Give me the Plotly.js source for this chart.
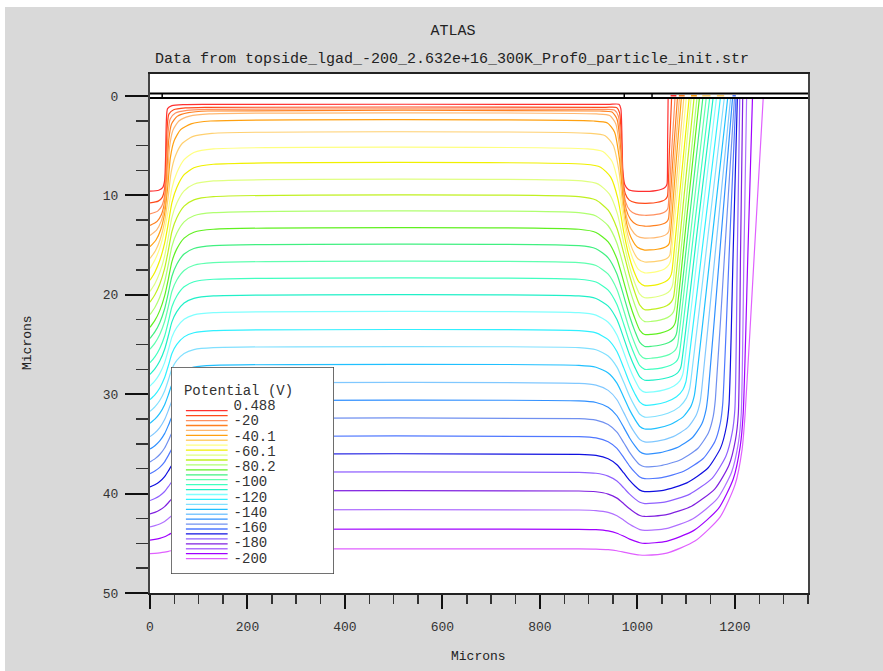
<!DOCTYPE html>
<html><head><meta charset="utf-8">
<script src="https://cdn.plot.ly/plotly-3.0.1.min.js"></script>
<style>html,body{margin:0;padding:0;background:#fff;width:883px;height:671px;overflow:hidden}
#chart{position:absolute;left:5px;top:7px;width:878px;height:664px}</style>
</head><body><div id="chart"></div><script>
// ---- data ----
const legendLabels = ['0.488','-20','-40.1','-60.1','-80.2','-100','-120','-140','-160','-180','-200'];
// depth (microns) where each potential contour meets the left edge x=0
const leftDepth = [9.57,10.76,11.87,13.02,14.04,15.16,16.34,17.35,18.54,19.66,20.74,21.99,23.27,24.39,25.47,26.83,28.01,29.19,30.55,31.73,32.92,34.27,35.52,36.81,37.99,39.34,40.70,42.05,43.34,44.69,46.04];
// depth of the flat part under the gain implant (x≈500)
const plateauDepth = [0.84,1.14,1.34,1.51,1.81,2.52,3.76,5.33,6.87,8.55,10.13,11.74,13.41,15.06,16.77,18.44,20.12,21.80,23.61,25.32,27.10,28.91,30.68,32.46,34.27,36.05,37.86,39.74,41.65,43.59,45.57];
// depth at the bottom of the gap dip (x≈1015)
const gapDepth = [9.6,10.8,12.0,13.1,14.3,15.5,16.7,17.8,19.1,20.3,21.5,22.7,24.0,25.2,26.4,27.5,28.6,29.8,31.1,32.3,33.5,34.8,36.0,37.3,38.5,39.8,41.0,42.3,43.7,45.0,46.2];
// bend point of the right-hand branch
const kneeX = [1061,1062,1063,1064,1065,1066,1067,1069,1071,1073,1075,1077,1079,1081,1083,1086,1090,1095,1102,1110,1120,1132,1145,1160,1175,1188,1200,1207,1213,1217,1221];
const kneeDepth = [8.8,10.0,11.2,12.3,13.5,14.7,15.9,16.3,17.6,18.8,20.0,21.2,22.5,23.7,24.9,26.0,27.1,27.5,28.0,28.5,29.0,29.5,30.0,30.5,31.0,31.0,31.5,32.0,32.0,32.0,32.0];
// x where each contour reaches the surface
const topX = [1063,1070,1077,1082,1086,1090,1095,1100,1106,1110,1116,1122,1127,1134,1141,1148,1155,1162,1170,1178,1185,1191,1195,1199,1202,1205,1210,1216,1224,1236,1258];
const lineColors = ['#ff3030','#ff4a1a','#ff9060','#ff8020','#ffb870','#ffa010','#ffd070','#ffff80','#f0f000','#e0ff80','#c0f020','#b0ff70','#60f020','#40f080','#60ffb0','#40ffc0','#20f0c8','#80ffff','#30f0ff','#80e0ff','#20c0ff','#80c8ff','#3090ff','#7090f0','#5078ff','#1010e0','#9060ff','#8020e0','#b070ff','#a000ff','#e060ff'];
const oxideTopY = -0.25, oxideBottomY = 0.2, xMax = 1350;
const electrodeEdgeX = [25, 973, 1030];
// short contour pieces inside the surface oxide (start x, end x, level index)
const oxideDashStart = [1068,1085,1110,1133,1163,1195];
const oxideDashEnd   = [1080,1097,1122,1150,1178,1202];
const oxideDashLevel = [0,3,5,6,6,24];

// ---- contour path construction (shape knots) ----
const LS = {x:[0,18,26,30,32,33.5,36,45,70,110], f:[1,0.99,0.96,0.88,0.6,0.2,0.05,0.015,0.003,0]};
const LM = {x:[0,10,20,30,38,45,55,70,90,130], f:[1,0.93,0.83,0.68,0.5,0.33,0.2,0.09,0.03,0]};
const US = {x:[940,962,966,968,970,974,982,995,1015], g:[0,0,0.05,0.3,0.75,0.92,0.98,0.997,1]};
const UM = {x:[880,915,940,958,972,984,995,1005,1015], g:[0,0.03,0.12,0.28,0.5,0.7,0.85,0.96,1]};
const RC = {x:[0.22,0.5,0.75,0.9,0.97,1], d:[0.015,0.1,0.27,0.5,0.75,1]};
function buildLevel(i){
  const L=leftDepth[i], P=plateauDepth[i], U=gapDepth[i], R=topX[i], kx=kneeX[i], ky=kneeDepth[i];
  const xs=[], ys=[];
  const w=Math.min(1,i/7);
  for(let k=0;k<LS.x.length;k++){xs.push(LS.x[k]*(1-w)+LM.x[k]*w); ys.push(P+(LS.f[k]*(1-w)+LM.f[k]*w)*(L-P));}
  const wu=Math.min(1,i/10);
  for(let k=0;k<US.x.length;k++){xs.push(US.x[k]*(1-wu)+UM.x[k]*wu); ys.push(P+(US.g[k]*(1-wu)+UM.g[k]*wu)*(U-P));}
  for(let k=0;k<RC.x.length;k++){xs.push(1015+(kx-1015)*RC.x[k]); ys.push(U-(U-ky)*RC.d[k]);}
  xs.push((kx+R)/2); ys.push(ky/2+0.15);
  xs.push(R); ys.push(0.3);
  return {x:xs,y:ys};
}

const traces=[];
for(let i=0;i<plateauDepth.length;i++){
  const p=buildLevel(i);
  traces.push({type:'scatter',mode:'lines',x:p.x,y:p.y,line:{color:lineColors[i],width:1.2,shape:'spline',smoothing:0.6},hoverinfo:'skip',showlegend:false});
}
for(let k=0;k<oxideDashStart.length;k++){
  traces.push({type:'scatter',mode:'lines',x:[oxideDashStart[k],oxideDashEnd[k]],y:[-0.02,-0.02],line:{color:lineColors[oxideDashLevel[k]],width:1.5},hoverinfo:'skip',showlegend:false});
}
traces.push({type:'scatter',mode:'lines',x:[0,xMax,null,0,xMax],y:[oxideTopY,oxideTopY,null,oxideBottomY,oxideBottomY],line:{color:'#000',width:2},hoverinfo:'skip',showlegend:false});
const ex=[],ey=[];
electrodeEdgeX.forEach(v=>{ex.push(v,v,null);ey.push(oxideTopY,oxideBottomY,null);});
traces.push({type:'scatter',mode:'lines',x:ex,y:ey,line:{color:'#000',width:1.5},hoverinfo:'skip',showlegend:false});

// ---- legend drawn in an inset subplot ----
traces.push({type:'scatter',mode:'lines',xaxis:'x2',yaxis:'y2',x:[0,164,164,0,0],y:[0,0,207,207,0],fill:'toself',fillcolor:'#fff',line:{color:'#444',width:1.5},hoverinfo:'skip',showlegend:false});
for(let i=0;i<lineColors.length;i++){
  const yy=43.7+i*4.93;
  traces.push({type:'scatter',mode:'lines',xaxis:'x2',yaxis:'y2',x:[15,57],y:[yy,yy],line:{color:lineColors[i],width:1.3},hoverinfo:'skip',showlegend:false});
}
traces.push({type:'scatter',mode:'text',xaxis:'x2',yaxis:'y2',x:legendLabels.map(()=>63),y:legendLabels.map((_,k)=>39.7+k*15.25),text:legendLabels,textposition:'middle right',textfont:{family:'Liberation Mono',size:14,color:'#333'},hoverinfo:'skip',showlegend:false});
traces.push({type:'scatter',mode:'text',xaxis:'x2',yaxis:'y2',x:[13],y:[25],text:['Potential (V)'],textposition:'middle right',textfont:{family:'Liberation Mono',size:14,color:'#333'},hoverinfo:'skip',showlegend:false});

const tickFont={family:'Liberation Mono',size:13,color:'#333'};
const layout={
  width:878,height:664,
  paper_bgcolor:'#d9d9d9',plot_bgcolor:'#ffffff',
  margin:{l:145,r:75,t:67,b:78},
  title:{text:'ATLAS',font:{family:'Liberation Mono',size:15,color:'#222'},xref:'container',x:0.5103,xanchor:'center',yref:'container',y:0.9654,yanchor:'middle'},
  xaxis:{range:[0,xMax],showgrid:false,zeroline:false,showline:true,mirror:true,linecolor:'#222',linewidth:2,
    ticks:'outside',ticklen:14,tickwidth:2,tickcolor:'#111',dtick:200,tick0:0,tickfont:tickFont,ticklabelstandoff:6,
    minor:{dtick:50,ticklen:9,tickwidth:1.5,tickcolor:'#333',ticks:'outside'}},
  yaxis:{range:[50,-2.21],showgrid:false,zeroline:false,showline:true,mirror:true,linecolor:'#444',linewidth:2,
    ticks:'outside',ticklen:23,tickwidth:2,tickcolor:'#111',dtick:10,tick0:0,tickfont:tickFont,ticklabelstandoff:4,
    minor:{dtick:2.5,ticklen:12,tickwidth:1.5,tickcolor:'#333',ticks:'outside'}},
  xaxis2:{domain:[0.0319,0.2796],range:[0,164],visible:false,anchor:'y2'},
  yaxis2:{domain:[0.0366,0.4355],range:[207,0],visible:false,anchor:'x2'},
  annotations:[
    {text:'Data from topside_lgad_-200_2.632e+16_300K_Prof0_particle_init.str',xref:'paper',yref:'paper',x:0.4597,y:1.0289,xanchor:'center',yanchor:'middle',showarrow:false,font:{family:'Liberation Mono',size:15,color:'#222'}},
    {text:'Microns',xref:'paper',yref:'paper',x:0.4985,y:-0.1233,xanchor:'center',yanchor:'middle',showarrow:false,font:{family:'Liberation Mono',size:13,color:'#222'}},
    {text:'Microns',xref:'paper',yref:'paper',x:-0.1854,y:0.4817,xanchor:'center',yanchor:'middle',textangle:-90,showarrow:false,font:{family:'Liberation Mono',size:13,color:'#222'}}
  ]
};
Plotly.newPlot('chart',traces,layout,{displayModeBar:false,staticPlot:true});
</script></body></html>
